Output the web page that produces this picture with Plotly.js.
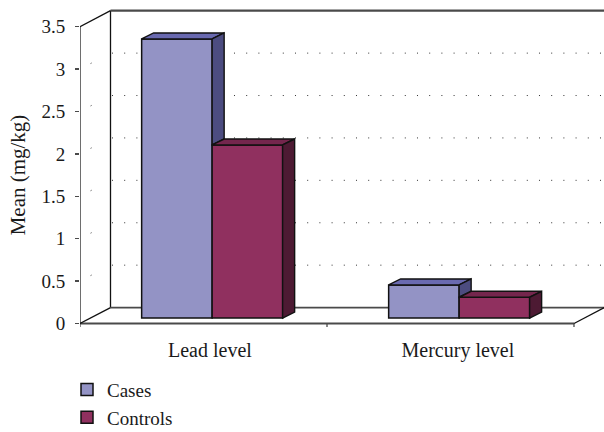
<!DOCTYPE html>
<html><head><meta charset="utf-8">
<script src="https://cdn.plot.ly/plotly-3.0.1.min.js"></script>
<style>html,body{margin:0;padding:0;background:#fff}</style></head>
<body><div id="chart" style="width:604px;height:432px"></div>
<script>
const categories = ["Lead level", "Mercury level"];
const cases = [3.29, 0.39];
const controls = [2.04, 0.245];
const seriesNames = ["Cases", "Controls"];
const yTicks = [0, 0.5, 1, 1.5, 2, 2.5, 3, 3.5];
const yTickLabels = ["0", "0.5", "1", "1.5", "2", "2.5", "3", "3.5"];
const barCentres = [0.535, 1.535];
const labelPositions = [0.526, 1.53];
const barWidth = 0.2854;
const floorBase = 0.065;
const barDx = 0.0486, barDy = 0.0706;
const wallDx = 0.1235, wallDy = 0.1882;
const xEnd = 2;
const yTop = 3.5;
const font = "'Liberation Serif', serif";
const ink = "#111", axisGrey = "#4a4a4a";
const caseCol = {front:"#9393c5", top:"#6a6ab0", side:"#4c4c80"};
const ctrlCol = {front:"#90305f", top:"#74264d", side:"#4d1a33"};

function poly(xs, ys, fill){
  return {type:"scatter", mode:"lines", x:xs.concat(xs[0]), y:ys.concat(ys[0]), fill:"toself",
    fillcolor:fill, line:{color:ink,width:1.4}, hoverinfo:"skip", showlegend:false, cliponaxis:false};
}
function frame(xs, ys, color, width){
  return {type:"scatter", mode:"lines", x:xs, y:ys, line:{color:color,width:width},
    hoverinfo:"skip", showlegend:false, cliponaxis:false};
}
const traces = [
  {type:"bar", name:seriesNames[0], x:barCentres, y:cases, base:floorBase, width:barWidth, offset:-barWidth,
   marker:{color:caseCol.front, line:{color:ink,width:1.5}}},
  {type:"bar", name:seriesNames[1], x:barCentres, y:controls, base:floorBase, width:barWidth, offset:0,
   marker:{color:ctrlCol.front, line:{color:ink,width:1.5}}}
];
barCentres.forEach((c,i)=>{
  const x0=c-barWidth, x1=c, x2=c+barWidth;
  const t1=cases[i]+floorBase, t2=controls[i]+floorBase, b=floorBase;
  traces.push(poly([x0,x1,x1+barDx,x0+barDx],[t1,t1,t1+barDy,t1+barDy],caseCol.top));
  traces.push(poly([x1,x1+barDx,x1+barDx,x1],[t1,t1+barDy,t2+barDy,t2],caseCol.side));
  traces.push(poly([x1,x2,x2+barDx,x1+barDx],[t2,t2,t2+barDy,t2+barDy],ctrlCol.top));
  traces.push(poly([x2,x2+barDx,x2+barDx,x2],[t2,t2+barDy,b+barDy,b],ctrlCol.side));
});
traces.push(frame([0,0],[0,yTop],axisGrey,1.6));
traces.push(frame([0,xEnd],[0,0],axisGrey,2));
traces.push(frame([0,wallDx],[0,wallDy],ink,1.3));
traces.push(frame([0,wallDx],[yTop,yTop+wallDy],ink,1.3));
traces.push(frame([xEnd,xEnd+wallDx],[0,wallDy],ink,1.3));

const shapes = [
  {type:"line",layer:"below",xref:"x",yref:"y",x0:wallDx,x1:wallDx,y0:wallDy,y1:yTop+wallDy,line:{color:ink,width:1.3}},
  {type:"line",layer:"below",xref:"x",yref:"y",x0:wallDx,x1:xEnd+wallDx,y0:wallDy,y1:wallDy,line:{color:axisGrey,width:1.6}},
  {type:"line",layer:"below",xref:"x",yref:"y",x0:wallDx,x1:xEnd+wallDx,y0:yTop+wallDy,y1:yTop+wallDy,line:{color:axisGrey,width:2.2}},
  {type:"line",layer:"below",xref:"x",yref:"y",x0:1,x1:1,y0:0,y1:-0.04,line:{color:axisGrey,width:1.3}},
  {type:"line",layer:"below",xref:"x",yref:"y",x0:xEnd,x1:xEnd,y0:0,y1:-0.04,line:{color:axisGrey,width:1.3}},
  {type:"line",layer:"below",xref:"x",yref:"y",x0:0,x1:0,y0:0,y1:-0.04,line:{color:axisGrey,width:1.3}}
];
yTicks.slice(1,-1).forEach(v=>{
  shapes.push({type:"line",layer:"below",xref:"x",yref:"y",x0:wallDx+0.006,x1:xEnd+wallDx,y0:v+wallDy,y1:v+wallDy,
    line:{color:"#333",width:1,dash:"1px,11.2px"}});
  shapes.push({type:"line",layer:"below",xref:"x",yref:"y",x0:0,x1:wallDx,y0:v,y1:v+wallDy,
    line:{color:"#333",width:1,dash:"0px,12px,1px,11.5px"}});
});

const layout = {
  width:604, height:432, paper_bgcolor:"#fff", plot_bgcolor:"#fff", showlegend:true,
  margin:{l:80,r:0,t:7.8,b:89.5,pad:0,autoexpand:false},
  barmode:"overlay", font:{family:font,size:20,color:"#1a1a1a"},
  xaxis:{range:[0,2.1215],tickmode:"array",tickvals:labelPositions,ticktext:categories,ticks:"",ticklen:0,
    showgrid:false,zeroline:false,showline:false,ticklabelstandoff:-6,tickfont:{family:font,size:20,color:"#1a1a1a"},fixedrange:true},
  yaxis:{range:[-0.2176,3.72],tickmode:"array",tickvals:yTicks,ticktext:yTickLabels,ticks:"outside",ticklen:4,tickwidth:1.5,tickcolor:axisGrey,
    showgrid:false,zeroline:false,showline:false,ticklabelstandoff:6,tickfont:{family:font,size:19,color:"#1a1a1a"},
    title:{text:"Mean (mg/kg)",font:{family:font,size:21,color:"#1a1a1a"},standoff:10},fixedrange:true},
  legend:{x:-0.0248,xanchor:"left",y:-0.086,yanchor:"top",bgcolor:"rgba(0,0,0,0)",font:{family:font,size:19,color:"#1a1a1a"},itemwidth:30},
  shapes:shapes
};
Plotly.newPlot("chart",traces,layout,{displayModeBar:false,staticPlot:true});
</script></body></html>
